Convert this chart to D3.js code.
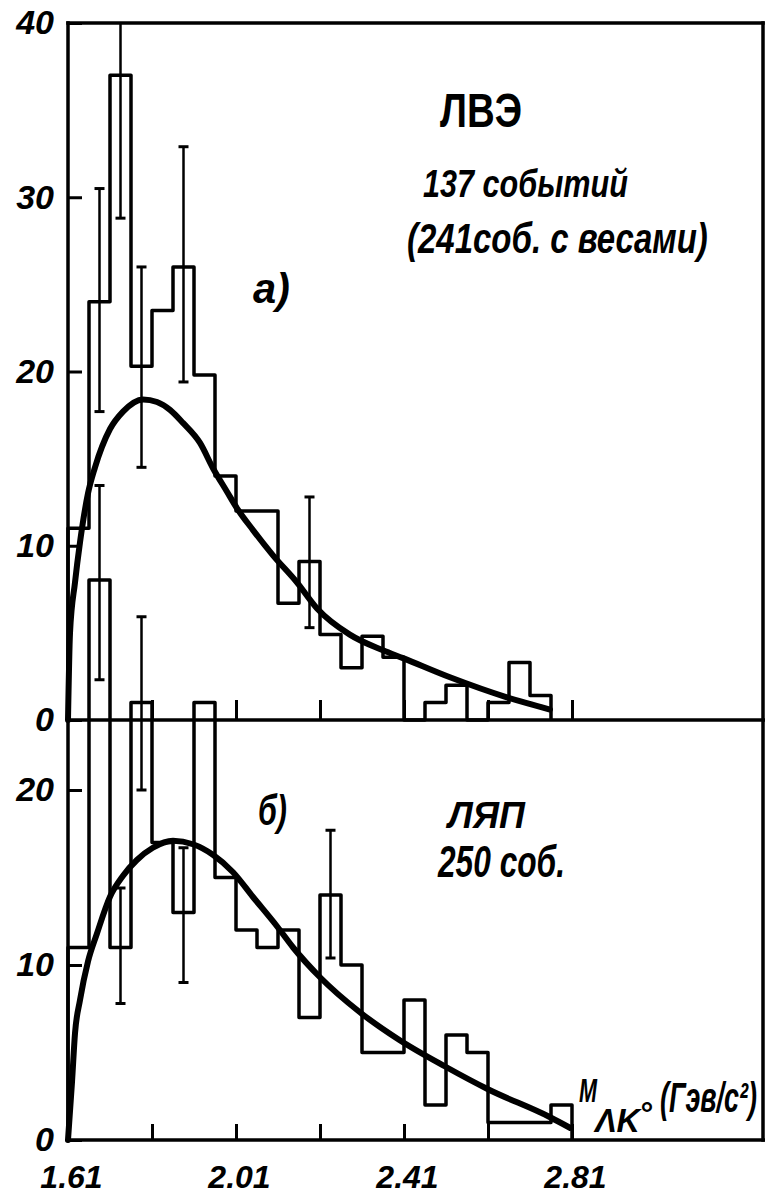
<!DOCTYPE html>
<html lang="ru">
<head>
  <meta charset="UTF-8">
  <title>M(ΛK°) — ЛВЭ / ЛЯП</title>
  <script src="https://d3js.org/d3.v7.min.js"></script>
  <style>
    body { margin: 0; background: #fff; }
    svg { display: block; }
    text { font-family: "Liberation Sans", Arial, sans-serif; font-weight: bold; font-style: italic; fill: #000; }
  </style>
</head>
<body>
  <div id="chart"></div>
  <script>
    // Dimensions
    const width = 765, height = 1198;
    const frame = {left: 68, right: 763, top: 23, mid: 720, bottom: 1140};

    // Mass axis (GeV/c^2)
    const massTicks = [1.61, 1.81, 2.01, 2.21, 2.41, 2.61, 2.81];
    const massTickLabels = ['1.61', '', '2.01', '', '2.41', '', '2.81'];
    const binEdges = [1.61, 1.66, 1.71, 1.76, 1.81, 1.86, 1.91, 1.96, 2.01, 2.06, 2.11, 2.16, 2.21,
                      2.26, 2.31, 2.36, 2.41, 2.46, 2.51, 2.56, 2.61, 2.66, 2.71, 2.76, 2.81];

    // a) ЛВЭ histogram (weighted events per bin)
    const lveCounts = [11, 24, 37, 20.3, 23.5, 26, 19.8, 14, 12, 12, 6.7, 9.1,
                       4.9, 3.0, 4.8, 3.6, 0, 1.0, 2.0, 0, 1.0, 3.3, 1.4];
    const lveErrBin = [1, 2, 3, 5, 11];
    const lveErrLow = [17.7, 28.8, 14.5, 19.4, 5.3];
    const lveErrHigh = [30.5, 45, 26.0, 32.9, 12.8];
    const lveCurveMass = [1.61, 1.6148, 1.6267, 1.6386, 1.6576, 1.6743, 1.71, 1.741, 1.7886, 1.822,
                          1.8529, 1.8838, 1.9243, 1.9552, 1.9886, 2.0124, 2.0505, 2.0981, 2.155, 2.203,
                          2.281, 2.36, 2.4076, 2.5195, 2.655, 2.7576];
    const lveCurveValue = [0, 5.0, 7.9, 10.2, 13.0, 14.5, 16.7, 17.7, 18.4, 18.25,
                           17.8, 17.05, 15.9, 14.45, 13.1, 12.15, 10.9, 9.45, 7.9, 6.4,
                           4.9, 4.0, 3.55, 2.45, 1.3, 0.6];

    // б) ЛЯП histogram
    const lyapCounts = [11, 32, 11, 25, 17, 13, 25, 15, 12, 11, 12, 7,
                        14, 10, 5, 5, 8, 2, 6, 5, 1, 1, 1, 2];
    const lyapErrBin = [1, 2, 3, 5, 12];
    const lyapErrLow = [26.3, 7.8, 20.0, 9.0, 10.4];
    const lyapErrHigh = [37.4, 14.4, 29.9, 16.7, 17.7];
    const lyapCurveMass = [1.61, 1.6195, 1.6267, 1.6386, 1.6576, 1.679, 1.71, 1.741, 1.774, 1.812,
                           1.86, 1.9076, 1.955, 2.003, 2.05, 2.108, 2.146, 2.21, 2.305, 2.40,
                           2.508, 2.61, 2.758, 2.805];
    const lyapCurveValue = [0, 3.3, 6.1, 8.0, 10.2, 11.8, 13.9, 15.1, 16.0, 16.7,
                            17.1, 16.9, 16.3, 15.3, 13.9, 12.2, 11.0, 9.3, 7.3, 5.7,
                            4.2, 2.9, 1.3, 0.7];

    const svg = d3.select('#chart').append('svg')
      .attr('width', width)
      .attr('height', height);
    svg.append('rect').attr('width', width).attr('height', height).attr('fill', '#fff');

    // Scales
    const x = d3.scaleLinear().domain([1.61, 2.81]).range([frame.left, 572]);
    const yTop = d3.scaleLinear().domain([0, 40]).range([frame.mid, frame.top]);
    const yBot = d3.scaleLinear().domain([0, 24]).range([frame.bottom, frame.mid]);

    // Frame
    const frameLines = [
      [frame.left, frame.top, frame.left, frame.bottom],
      [frame.left, frame.top, frame.right, frame.top],
      [frame.right, frame.top, frame.right, frame.bottom],
      [frame.left, frame.mid, width, frame.mid],
      [frame.left, frame.bottom, width, frame.bottom]
    ];
    svg.append('g').selectAll('line').data(frameLines).enter().append('line')
      .attr('x1', d => d[0]).attr('y1', d => d[1]).attr('x2', d => d[2]).attr('y2', d => d[3])
      .attr('stroke', '#000').attr('stroke-width', 3.5).attr('stroke-linecap', 'square');

    // Axes
    function styleAxis(g, size) {
      g.select('.domain').remove();
      g.selectAll('.tick line').attr('stroke', '#000').attr('stroke-width', 3);
      g.attr('font-family', null).attr('font-size', size);
    }

    svg.append('g')
      .attr('transform', `translate(${frame.left},0)`)
      .call(d3.axisLeft(yTop).tickValues([0, 10, 20, 30, 40]).tickSizeInner(-14).tickSizeOuter(0).tickPadding(14))
      .call(g => styleAxis(g, 34));

    svg.append('g')
      .attr('transform', `translate(${frame.left},0)`)
      .call(d3.axisLeft(yBot).tickValues([0, 10, 20]).tickSizeInner(-14).tickSizeOuter(0).tickPadding(14))
      .call(g => styleAxis(g, 34));

    svg.append('g')
      .attr('transform', `translate(0,${frame.mid})`)
      .call(d3.axisBottom(x).tickValues(massTicks.slice(1)).tickFormat('').tickSizeInner(-20).tickSizeOuter(0))
      .call(g => styleAxis(g, 10));

    svg.append('g')
      .attr('transform', `translate(0,${frame.bottom})`)
      .call(d3.axisBottom(x).tickValues(massTicks).tickFormat((d, i) => massTickLabels[i])
        .tickSizeInner(-16).tickSizeOuter(0).tickPadding(25))
      .call(g => styleAxis(g, 32))
      .call(g => g.selectAll('text').attr('dx', 3));

    // Histograms
    function stepPoints(counts) {
      const pts = [{m: binEdges[0], v: 0}];
      counts.forEach((c, i) => pts.push({m: binEdges[i], v: c}));
      pts.push({m: binEdges[counts.length], v: counts[counts.length - 1]});
      pts.push({m: binEdges[counts.length], v: 0});
      return pts;
    }

    function drawPanel(counts, y, errBin, errLow, errHigh, curveMass, curveValue, yMax) {
      const step = d3.line().x(d => x(d.m)).y(d => y(d.v)).curve(d3.curveStepAfter);
      svg.append('path')
        .datum(stepPoints(counts))
        .attr('d', step)
        .attr('fill', 'none').attr('stroke', '#000').attr('stroke-width', 3.5)
        .attr('stroke-linejoin', 'round');

      // error bars
      const errs = errBin.map((b, i) => ({
        m: (binEdges[b] + binEdges[b + 1]) / 2, lo: errLow[i], hi: errHigh[i]
      }));
      const eg = svg.append('g').attr('stroke', '#000');
      eg.selectAll('line.bar').data(errs).enter().append('line')
        .attr('x1', d => x(d.m)).attr('x2', d => x(d.m))
        .attr('y1', d => y(d.lo)).attr('y2', d => y(Math.min(d.hi, yMax)))
        .attr('stroke-width', 2.5);
      eg.selectAll('line.lo').data(errs).enter().append('line')
        .attr('x1', d => x(d.m) - 5).attr('x2', d => x(d.m) + 5)
        .attr('y1', d => y(d.lo)).attr('y2', d => y(d.lo))
        .attr('stroke-width', 3);
      eg.selectAll('line.hi').data(errs.filter(d => d.hi <= yMax)).enter().append('line')
        .attr('x1', d => x(d.m) - 5).attr('x2', d => x(d.m) + 5)
        .attr('y1', d => y(d.hi)).attr('y2', d => y(d.hi))
        .attr('stroke-width', 3);

      // fitted curve
      const curve = d3.line().x(d => x(d[0])).y(d => y(d[1])).curve(d3.curveMonotoneX);
      svg.append('path')
        .datum(curveMass.map((m, i) => [m, curveValue[i]]))
        .attr('d', curve)
        .attr('fill', 'none').attr('stroke', '#000').attr('stroke-width', 6)
        .attr('stroke-linecap', 'round');
    }

    drawPanel(lveCounts, yTop, lveErrBin, lveErrLow, lveErrHigh, lveCurveMass, lveCurveValue, 40);
    drawPanel(lyapCounts, yBot, lyapErrBin, lyapErrLow, lyapErrHigh, lyapCurveMass, lyapCurveValue, 99);

    // Labels: squeeze each text horizontally to the width it has in the figure
    function label(txt, px, py, size, len, upright) {
      const t = svg.append('text').attr('font-size', size).text(txt);
      if (upright) t.style('font-style', 'normal');
      const k = len ? Math.min(1, len / t.node().getComputedTextLength()) : 1;
      t.attr('transform', `translate(${px},${py}) scale(${k},1)`);
      return t;
    }
    label('ЛВЭ', 440, 127, 48, 82, true);
    label('137 событий', 423, 197, 38, 205);
    label('(241соб. с весами)', 407, 253, 42, 301);
    label('а)', 253, 303, 42, 37);
    label('б)', 258, 825, 42, 29);
    label('ЛЯП', 448, 828, 36, 79);
    label('250 соб.', 438, 877, 44, 127);
    label('M', 579, 1102, 33, 18);
    label('ΛK', 595, 1132, 34, 45);
    label('°', 639, 1124, 32);
    label('(Гэв/с²)', 660, 1112, 42, 97);
  </script>
</body>
</html>
